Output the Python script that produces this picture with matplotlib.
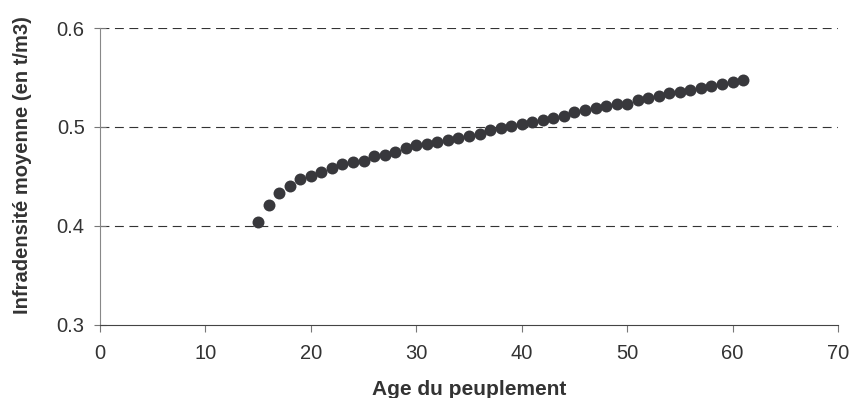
import matplotlib
matplotlib.use("Agg")
import matplotlib.pyplot as plt

plt.rcParams['font.family'] = ['Liberation Sans', 'DejaVu Sans']

age = list(range(15, 62))
infradensite = [
    0.404, 0.421, 0.433, 0.440, 0.447, 0.451, 0.455, 0.459, 0.463, 0.465,
    0.466, 0.471, 0.472, 0.475, 0.479, 0.482, 0.483, 0.485, 0.487, 0.489,
    0.491, 0.493, 0.497, 0.499, 0.501, 0.503, 0.505, 0.507, 0.509, 0.511,
    0.515, 0.517, 0.519, 0.521, 0.523, 0.523, 0.527, 0.529, 0.531, 0.534,
    0.535, 0.537, 0.539, 0.541, 0.543, 0.545, 0.547,
]

fig = plt.figure(figsize=(8.53, 3.98), dpi=100)
ax = fig.add_axes([100 / 853, 1 - 325 / 398, 738 / 853, 297 / 398])

ax.scatter(age, infradensite, s=74, color='#38383c', zorder=3, linewidths=0)

ax.set_xlim(0, 70)
ax.set_ylim(0.3, 0.6)
ax.set_xticks(range(0, 71, 10))
ax.set_yticks([0.3, 0.4, 0.5, 0.6])
ax.set_yticklabels(['0.3', '0.4', '0.5', '0.6'])

for y in [0.4, 0.5, 0.6]:
    ax.axhline(y, color='#333333', lw=0.8, ls=(0, (8, 5)), zorder=1)

ax.spines['top'].set_visible(False)
ax.spines['right'].set_visible(False)
ax.spines['left'].set_color('#888888')
ax.spines['bottom'].set_color('#444444')
ax.tick_params(axis='x', direction='out', length=5, color='#777777',
               labelsize=14.5, labelcolor='#333333', pad=9)
ax.tick_params(axis='y', direction='inout', length=8, color='#777777',
               labelsize=14.5, labelcolor='#333333', pad=7)

ax.set_xlabel('Age du peuplement', fontsize=15, fontweight='bold', color='#333333')
ax.set_ylabel('Infradensité moyenne (en t/m3)', fontsize=14.5, fontweight='bold',
              color='#333333')
ax.xaxis.set_label_coords(0.5, -0.185)
ax.yaxis.set_label_coords(-0.092, 0.54)

fig.savefig('out.png', dpi=100)
